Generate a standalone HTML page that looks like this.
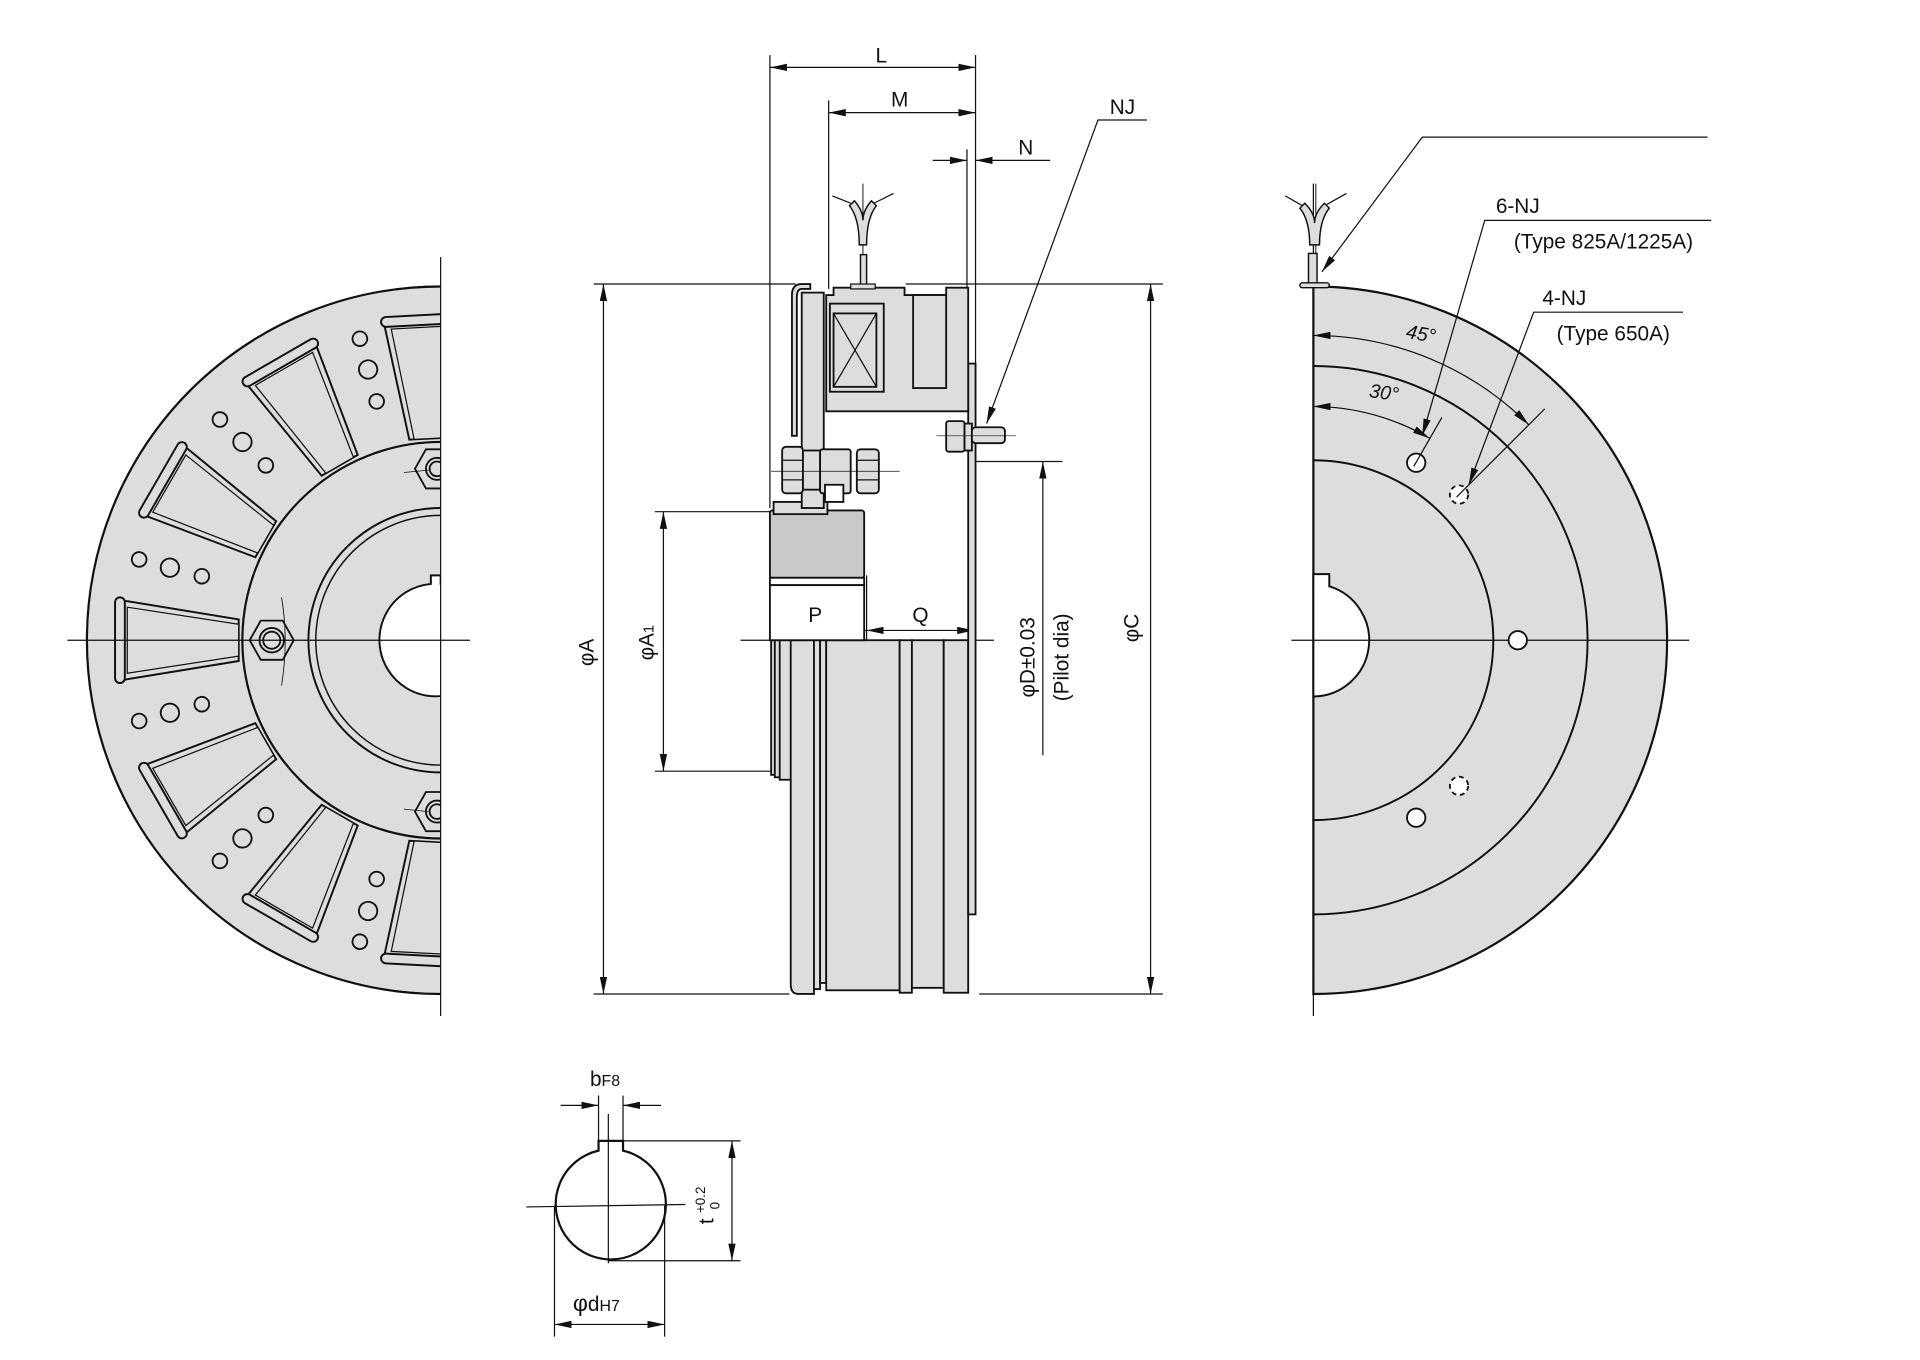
<!DOCTYPE html>
<html><head><meta charset="utf-8"><style>
html,body{margin:0;padding:0;background:#fff;}
svg{display:block;}
text{font-family:"Liberation Sans",Arial,sans-serif;fill:#111;}
</style></head><body>
<svg width="1920" height="1360" viewBox="0 0 1568.6 1111" xmlns="http://www.w3.org/2000/svg">
<defs>
<marker id="a" viewBox="0 0 14 6" refX="14" refY="3" markerWidth="14" markerHeight="6" markerUnits="userSpaceOnUse" orient="auto-start-reverse"><path d="M0,0 L14,3 L0,6 Z" fill="#111"/></marker>
<clipPath id="cl"><rect x="0" y="0" width="360" height="1111"/></clipPath>
<clipPath id="cr"><rect x="1073" y="0" width="500" height="1111"/></clipPath>
<g id="slot">
<polygon points="97,490 195,506 195,540 97,556" fill="#dcdddd" stroke="#111" stroke-width="1.6"/>
<polygon points="104,496 195,510 195,536 104,550" fill="#dcdddd" stroke="#111" stroke-width="1"/>
<rect x="94" y="488" width="8" height="70" rx="4" fill="#dcdddd" stroke="#111" stroke-width="1.6"/>
</g>
<g id="holes" fill="#dcdddd" stroke="#111" stroke-width="1.5">
<circle cx="105" cy="523" r="6"/><circle cx="131" cy="523" r="7.5"/><circle cx="158" cy="523" r="6"/>
</g>
</defs>

<!-- LEFT VIEW -->
<g clip-path="url(#cl)">
<circle cx="360" cy="523" r="289" fill="#dcdddd" stroke="#111" stroke-width="1.8"/>
<use href="#slot"/>
<use href="#slot" transform="rotate(30 360 523)"/>
<use href="#slot" transform="rotate(-30 360 523)"/>
<use href="#slot" transform="rotate(60 360 523)"/>
<use href="#slot" transform="rotate(-60 360 523)"/>
<use href="#slot" transform="rotate(87 360 523)"/>
<use href="#slot" transform="rotate(-87 360 523)"/>
<use href="#holes" transform="rotate(15 360 523)"/>
<use href="#holes" transform="rotate(-15 360 523)"/>
<use href="#holes" transform="rotate(45 360 523)"/>
<use href="#holes" transform="rotate(-45 360 523)"/>
<use href="#holes" transform="rotate(75 360 523)"/>
<use href="#holes" transform="rotate(-75 360 523)"/>
<circle cx="360" cy="523" r="162" fill="#dcdddd" stroke="#111" stroke-width="1.8"/>
<circle cx="360" cy="523" r="108" fill="none" stroke="#111" stroke-width="1.6"/>
<circle cx="360" cy="523" r="102" fill="none" stroke="#111" stroke-width="1.2"/>
<path d="M360,470 H352 V477 A46,46 0 1 0 360,477 Z" fill="#fff" stroke="#111" stroke-width="1.6"/>
<g fill="#dcdddd" stroke="#111" stroke-width="1.5">
<polygon points="204,523 213,507 231,507 240,523 231,539 213,539"/>
<circle cx="222" cy="523" r="10"/><circle cx="222" cy="523" r="7" fill="none"/>
<polygon points="339,383 348,367 366,367 375,383 366,399 348,399"/>
<circle cx="357" cy="383" r="9"/><circle cx="357" cy="383" r="6" fill="none"/>
<polygon points="339,663 348,647 366,647 375,663 366,679 348,679"/>
<circle cx="357" cy="663" r="9"/><circle cx="357" cy="663" r="6" fill="none"/>
</g>
<path d="M230,488 Q236,523 230,560" fill="none" stroke="#111" stroke-width="0.7"/>
<line x1="330" y1="386" x2="350" y2="384" stroke="#111" stroke-width="0.6"/>
<line x1="330" y1="661" x2="350" y2="663" stroke="#111" stroke-width="0.6"/>
</g>
<line x1="360" y1="210" x2="360" y2="830" stroke="#111" stroke-width="1"/>
<line x1="55" y1="523" x2="384" y2="523" stroke="#111" stroke-width="1"/>

<!-- CENTER VIEW -->
<g stroke="#111" stroke-width="1" fill="none">
<!-- extension lines -->
<line x1="629" y1="45" x2="629" y2="415"/>
<line x1="797" y1="45" x2="797" y2="297"/>
<line x1="677" y1="82" x2="677" y2="236"/>
<line x1="790" y1="122" x2="790" y2="297"/>
<line x1="485" y1="232" x2="650" y2="232"/>
<line x1="740" y1="232" x2="950" y2="232"/>
<line x1="485" y1="812" x2="645" y2="812"/>
<line x1="800" y1="812" x2="950" y2="812"/>
<line x1="535" y1="418" x2="630" y2="418"/>
<line x1="535" y1="630" x2="630" y2="630"/>
<line x1="797" y1="377" x2="868" y2="377"/>
<line x1="605" y1="523" x2="812" y2="523"/>
<line x1="708" y1="470" x2="708" y2="523"/>
<!-- dimension lines -->
<line x1="629" y1="55" x2="797" y2="55" marker-start="url(#a)" marker-end="url(#a)"/>
<line x1="677" y1="92" x2="797" y2="92" marker-start="url(#a)" marker-end="url(#a)"/>
<line x1="762" y1="131" x2="790" y2="131" marker-end="url(#a)"/>
<line x1="858" y1="131" x2="797" y2="131" marker-end="url(#a)"/>
<line x1="493" y1="232" x2="493" y2="812" marker-start="url(#a)" marker-end="url(#a)"/>
<line x1="940" y1="232" x2="940" y2="812" marker-start="url(#a)" marker-end="url(#a)"/>
<line x1="542" y1="418" x2="542" y2="630" marker-start="url(#a)" marker-end="url(#a)"/>
<line x1="852" y1="617" x2="852" y2="377" marker-end="url(#a)"/>
<line x1="630" y1="515" x2="708" y2="515" marker-start="url(#a)" marker-end="url(#a)"/>
<line x1="708" y1="515" x2="796" y2="515" marker-start="url(#a)" marker-end="url(#a)"/>
<polyline points="937,98 897,98 806,346" marker-end="url(#a)"/>
</g>

<g fill="#dcdddd" stroke="#111" stroke-width="1.5">
<!-- lower body -->
<rect x="630" y="523" width="10" height="110"/>
<rect x="633" y="523" width="10" height="112"/>
<rect x="637" y="523" width="10" height="114"/>
<path d="M646,523 H665 V812 H652 Q646,812 646,804 Z"/>
<rect x="665" y="523" width="5" height="285"/>
<rect x="670" y="523" width="5" height="280"/>
<rect x="675" y="523" width="60" height="286"/>
<rect x="735" y="523" width="10" height="288"/>
<rect x="745" y="523" width="26" height="284"/>
<rect x="771" y="523" width="20" height="288"/>
<rect x="791" y="297" width="6" height="450"/>
<!-- hub block -->
<rect x="629" y="417" width="77" height="55" fill="#c8c9c9" rx="2"/>
<rect x="629" y="472" width="77" height="6" fill="#fff"/>
<rect x="629" y="478" width="77" height="45" fill="#fff"/>
<rect x="632" y="410" width="44" height="10"/>
<!-- spring & armature -->
<path d="M647,356 V241 Q647,232 655,232 H662 V236 H655 Q651,236 651,243 V356 Z"/>
<rect x="655" y="239" width="18" height="176"/>
<!-- magnet body -->
<path d="M675,241 H681 V235 H739 V241 H773 V235 H791 V336 H675 Z"/>
<rect x="678" y="248" width="44" height="72"/>
<rect x="681" y="256" width="35" height="60"/>
<rect x="746" y="241" width="27" height="76"/>
<!-- bolt & nuts -->
<rect x="639" y="365" width="17" height="38" rx="3"/>
<rect x="656" y="368" width="14" height="32"/>
<rect x="670" y="367" width="25" height="36" rx="2"/>
<rect x="700" y="367" width="18" height="36" rx="3"/>
<rect x="674" y="396" width="15" height="14" fill="#fff"/>
<!-- NJ screw -->
<rect x="773" y="344" width="15" height="25" rx="2"/>
<rect x="788" y="346" width="6" height="22"/>
<rect x="794" y="349" width="27" height="13" rx="3"/>
</g>
<g stroke="#111" stroke-width="1" fill="none">
<line x1="681" y1="256" x2="716" y2="316"/><line x1="716" y1="256" x2="681" y2="316"/>
<line x1="630" y1="385" x2="735" y2="385" stroke-width="0.6"/>
<line x1="765" y1="356" x2="830" y2="356" stroke-width="0.6"/>
<line x1="639" y1="376" x2="656" y2="376"/><line x1="639" y1="392" x2="656" y2="392"/>
<line x1="700" y1="376" x2="718" y2="376"/><line x1="700" y1="392" x2="718" y2="392"/>
<!-- lead wire -->
<line x1="705" y1="150" x2="705" y2="228" stroke-width="0.8"/>
<rect x="703" y="208" width="5" height="27" fill="#dcdddd" stroke-width="1.2"/>
<path d="M694,168 Q702,178 702,200 H708 Q708,178 716,168 L712,164 Q705,172 705,180 Q705,172 698,164 Z" fill="#dcdddd" stroke-width="1.2"/>
<line x1="680" y1="160" x2="695" y2="166"/><line x1="730" y1="158" x2="714" y2="166"/>
<rect x="695" y="232" width="20" height="4" fill="#dcdddd"/>
</g>

<g font-size="17">
<text x="720" y="51" text-anchor="middle">L</text>
<text x="735" y="87" text-anchor="middle">M</text>
<text x="838" y="126" text-anchor="middle">N</text>
<text x="917" y="93" text-anchor="middle">NJ</text>
<text x="666" y="508" text-anchor="middle">P</text>
<text x="752" y="508" text-anchor="middle">Q</text>
<text transform="translate(485,533) rotate(-90)" text-anchor="middle">φA</text>
<text transform="translate(534,525) rotate(-90)" text-anchor="middle">φA<tspan font-size="12">1</tspan></text>
<text transform="translate(845,537) rotate(-90)" text-anchor="middle">φD±0.03</text>
<text transform="translate(873,537) rotate(-90)" text-anchor="middle">(Pilot dia)</text>
<text transform="translate(930,513) rotate(-90)" text-anchor="middle">φC</text>
</g>

<!-- RIGHT VIEW -->
<path d="M1073,234 A289,289 0 0 1 1073,812 Z" fill="#dcdddd" stroke="#111" stroke-width="1.8"/>
<g fill="none" stroke="#111" stroke-width="1.6">
<path d="M1073,299 A224,224 0 0 1 1073,747"/>
<path d="M1073,376 A147,147 0 0 1 1073,670"/>
</g>
<path d="M1073,469 H1086 V479 A46,46 0 0 1 1073,569 Z" fill="#fff" stroke="#111" stroke-width="1.6"/>
<line x1="1073" y1="150" x2="1073" y2="830" stroke="#111" stroke-width="1"/>
<line x1="1055" y1="523" x2="1380" y2="523" stroke="#111" stroke-width="1"/>
<g fill="#fff" stroke="#111" stroke-width="1.5">
<circle cx="1157" cy="378" r="7.5"/>
<circle cx="1240" cy="523" r="7.5"/>
<circle cx="1157" cy="668" r="7.5"/>
<circle cx="1192" cy="404" r="7.5" stroke-dasharray="4,3"/>
<circle cx="1192" cy="642" r="7.5" stroke-dasharray="4,3"/>
</g>
<g stroke="#111" stroke-width="1" fill="none">
<path d="M1073,274 A249,249 0 0 1 1249,347" marker-start="url(#a)" marker-end="url(#a)"/>
<path d="M1073,332 A191,191 0 0 1 1168,358" marker-start="url(#a)" marker-end="url(#a)"/>
<line x1="1190" y1="406" x2="1262" y2="334"/>
<line x1="1155" y1="381" x2="1178" y2="341"/>
<polyline points="1398,180 1213,180 1162,356" marker-end="url(#a)"/>
<polyline points="1375,255 1253,255 1200,396" marker-end="url(#a)"/>
<polyline points="1395,112 1162,112 1080,222" marker-end="url(#a)"/>
<line x1="1075" y1="150" x2="1075" y2="232" stroke-width="0.8"/>
<rect x="1069" y="207" width="7" height="25" fill="#dcdddd" stroke-width="1.2"/>
<rect x="1062" y="231" width="24" height="4" rx="2" fill="#dcdddd" stroke-width="1.2"/>
<path d="M1062,170 Q1070,180 1070,200 H1078 Q1078,180 1086,170 L1082,166 Q1074,174 1074,182 Q1074,174 1066,166 Z" fill="#dcdddd" stroke-width="1.2"/>
<line x1="1050" y1="160" x2="1064" y2="168"/><line x1="1100" y1="158" x2="1084" y2="167"/>
</g>
<g font-size="17">
<text x="1240" y="174" text-anchor="middle">6-NJ</text>
<text x="1310" y="203" text-anchor="middle">(Type 825A/1225A)</text>
<text x="1278" y="249" text-anchor="middle">4-NJ</text>
<text x="1318" y="278" text-anchor="middle">(Type 650A)</text>
<text x="1160" y="278" text-anchor="middle" font-style="italic" font-size="16" transform="rotate(10 1160 278)">45°</text>
<text x="1130" y="326" text-anchor="middle" font-style="italic" font-size="16" transform="rotate(8 1130 326)">30°</text>
</g>

<!-- KEY DETAIL -->
<g stroke="#111" fill="none">
<path d="M489,940 V932 H509 V940 A45,45 0 1 1 489,940 Z" stroke-width="1.8"/>
<line x1="430" y1="986" x2="560" y2="984" stroke-width="1"/>
<line x1="497" y1="910" x2="497" y2="1032" stroke-width="1"/>
<line x1="489" y1="895" x2="489" y2="932" stroke-width="1"/>
<line x1="509" y1="895" x2="509" y2="932" stroke-width="1"/>
<line x1="458" y1="903" x2="489" y2="903" stroke-width="1" marker-end="url(#a)"/>
<line x1="540" y1="903" x2="509" y2="903" stroke-width="1" marker-end="url(#a)"/>
<line x1="509" y1="932" x2="605" y2="932" stroke-width="1"/>
<line x1="497" y1="1030" x2="605" y2="1030" stroke-width="1"/>
<line x1="598" y1="932" x2="598" y2="1030" stroke-width="1" marker-start="url(#a)" marker-end="url(#a)"/>
<line x1="453" y1="985" x2="453" y2="1092" stroke-width="1"/>
<line x1="543" y1="985" x2="543" y2="1092" stroke-width="1"/>
<line x1="453" y1="1082" x2="543" y2="1082" stroke-width="1" marker-start="url(#a)" marker-end="url(#a)"/>
</g>
<text x="482" y="887" font-size="17">b<tspan font-size="13">F8</tspan></text>
<text x="468" y="1071" font-size="19">φ<tspan font-size="17">d</tspan><tspan font-size="13">H7</tspan></text>
<g transform="translate(583,1000) rotate(-90)"><text x="0" y="0" font-size="17">t</text><text x="9" y="-7" font-size="11">+0.2</text><text x="12" y="5" font-size="11">0</text></g>
</svg>
</body></html>
